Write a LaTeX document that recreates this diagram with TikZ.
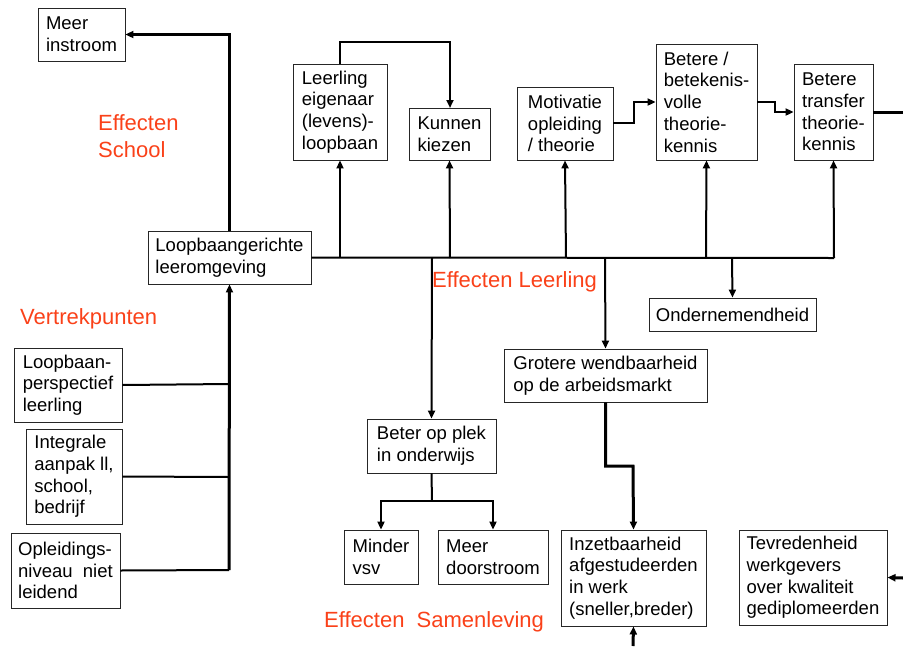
\documentclass[tikz,border=0pt]{standalone}
\usepackage{fontspec}
\setmainfont{Liberation Sans}
\usepackage{xcolor}
\usetikzlibrary{arrows.meta, positioning}
\definecolor{effectred}{HTML}{FA4119}

\begin{document}
\begin{tikzpicture}[
        x=1pt, y=-1pt,
        box/.style={
            rectangle,
            draw=black!85,
            line width=0.9pt,
            align=left,
            inner sep=0pt,
            font=\fontsize{18.5}{21.7}\selectfont
        },
        redlabel/.style={
            text=effectred,
            align=left,
            inner sep=0pt,
            font=\fontsize{22}{27}\selectfont
        },
        arrow/.style={-{Triangle[length=8pt,width=7pt]}, line width=2pt},
        thickarrow/.style={-{Triangle[length=8pt,width=7pt]}, line width=3pt},
        line/.style={line width=2pt},
        thickline/.style={line width=3pt}
    ]

    \useasboundingbox (0,0) rectangle (903,646);

    % boxes
    \node (meer) [box, minimum width=87pt, minimum height=53pt] at (81.5,34.5) {Meer\\instroom};
    \node (omgeving) [box, minimum width=163pt, minimum height=53pt] at (229.5,257.5) {Loopbaangerichte\\leeromgeving};
    \node (eigenaar) [box, minimum width=94pt, minimum height=96pt] at (340,112) {Leerling\\eigenaar\\(levens)-\\loopbaan};
    \node (kiezen) [box, minimum width=81pt, minimum height=52pt] at (449.5,134) {Kunnen\\kiezen};
    \node (motivatie) [box, minimum width=96pt, minimum height=73pt] at (565,123.5) {Motivatie\\opleiding\\/ theorie};
    \node (betekenis) [box, minimum width=101pt, minimum height=116pt] at (706.5,102) {Betere /\\betekenis-\\volle\\theorie-\\kennis};
    \node (transfer) [box, minimum width=79pt, minimum height=96pt] at (833.5,112) {Betere\\transfer\\theorie-\\kennis};
    \node (onder) [box, minimum width=167pt, minimum height=33pt] at (732.5,314.5) {Ondernemendheid};
    \node (wendbaar) [box, minimum width=203pt, minimum height=53pt] at (605.5,375.5) {Grotere wendbaarheid\\op de arbeidsmarkt};
    \node (plek) [box, minimum width=129pt, minimum height=54pt] at (431.5,446) {Beter op plek\\in onderwijs};
    \node (vsv) [box, minimum width=74pt, minimum height=54pt] at (381,557) {Minder\\vsv};
    \node (doorstroom) [box, minimum width=110pt, minimum height=54pt] at (493,557) {Meer\\doorstroom};
    \node (inzet) [box, minimum width=145pt, minimum height=96pt] at (633.5,578) {Inzetbaarheid\\afgestudeerden\\in werk\\(sneller,breder)};
    \node (tevreden) [box, minimum width=148pt, minimum height=95pt] at (813,577.5) {Tevredenheid\\werkgevers\\over kwaliteit\\gediplomeerden};
    \node (perspectief) [box, minimum width=108pt, minimum height=74pt] at (68,385) {Loopbaan-\\perspectief\\leerling};
    \node (integraal) [box, minimum width=96pt, minimum height=95pt] at (74,476.5) {Integrale\\aanpak ll,\\school,\\bedrijf};
    \node (niveau) [box, minimum width=109pt, minimum height=75pt] at (65.5,570.5) {Opleidings-\\niveau\ \ niet\\leidend};

    % labels
    \node (school) [redlabel, anchor=west] at (98,136) {Effecten\\School};
    \node (vertrek) [redlabel, anchor=west] at (20,319) {Vertrekpunten};
    \node (leerling) [redlabel, anchor=west] at (432,282) {Effecten Leerling};
    \node (samenleving) [redlabel, anchor=west] at (324,622) {Effecten\ \ Samenleving};

    % free ends at the border
    \coordinate (uitrechts) at (903,112);
    \coordinate (inrechts) at (903,578);
    \coordinate (inonder) at (633,646);

    % school
    \draw [thickarrow] (omgeving.north) |- (meer.east);
    \draw [line] (perspectief.east) -- (229,384);
    \draw [line] (integraal.east) -- (229,477);
    \draw [line] (niveau.east) -- (229,570);
    \draw [thickarrow] (229,570) -- (omgeving.south);

    % leerling
    \draw [line] (omgeving.east) -- (834,258);
    \draw [arrow] (340,258) -- (eigenaar.south);
    \draw [arrow] (450,258) -- (kiezen.south);
    \draw [arrow] (566,258) -- (motivatie.south);
    \draw [arrow] (706,258) -- (betekenis.south);
    \draw [arrow] (834,258) -- (transfer.south);
    \draw [arrow] (732,258) -- (onder.north);
    \draw [arrow] (605,258) -- (wendbaar.north);
    \draw [arrow] (432,258) -- (plek.north);
    \draw [arrow] (eigenaar.north) -- (340,42) -| (450,108);
    \draw [arrow] (motivatie.east |- 0,123) -- (634,123) |- (betekenis.west);
    \draw [arrow] (betekenis.east) -- (775,102) |- (transfer.west |- 0,112);
    \draw [thickline] (transfer.east |- 0,112) -- (uitrechts);

    % samenleving
    \draw [line] (plek.south) -- (432,501);
    \draw [arrow] (432,501) -| (vsv.north);
    \draw [arrow] (432,501) -| (doorstroom.north);
    \draw [thickarrow] (wendbaar.south) |- (633,466) -- (inzet.north);
    \draw [thickarrow] (inonder) -- (inzet.south);
    \draw [thickarrow] (inrechts) -- (tevreden.east);

\end{tikzpicture}
\end{document}
